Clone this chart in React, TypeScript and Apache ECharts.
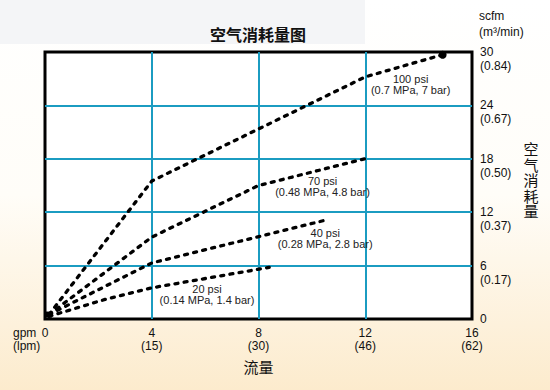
import React, { useEffect, useRef } from "react";
import * as echarts from "echarts";

// Flow (gpm) and air consumption (scfm)
const gpm100 = [0.15, 4, 12, 14.9];
const scfm100 = [0.5, 15.5, 27.2, 29.7];
const gpm70 = [0.15, 4, 8, 12.05];
const scfm70 = [0.5, 9.2, 15, 18.05];
const gpm40 = [0.15, 4, 10.5];
const scfm40 = [0.5, 6.3, 11.1];
const gpm20 = [0.15, 2.25, 4, 8.4];
const scfm20 = [0.3, 2.2, 3.5, 5.8];

// tick labels
const xTicks = [0, 4, 8, 12, 16];
const lpmLabels = ["", "(15)", "(30)", "(46)", "(62)"];
const yTicks = [0, 6, 12, 18, 24, 30];
const m3Labels = ["", "(0.17)", "(0.37)", "(0.50)", "(0.67)", "(0.84)"];

// series names and annotations
const seriesNames = ["100 psi", "70 psi", "40 psi", "20 psi"];
const seriesNotes = [
  "(0.7 MPa, 7 bar)",
  "(0.48 MPa, 4.8 bar)",
  "(0.28 MPa, 2.8 bar)",
  "(0.14 MPa, 1.4 bar)",
];
const noteAnchorsX = [13.7, 10.4, 10.5, 6.07];
const noteAnchorsY = [26.3, 14.9, 9.0, 2.7];

const FONT = "'Liberation Sans', Arial, 'Noto Sans CJK SC', sans-serif";

export default function App() {
  const ref = useRef<HTMLDivElement>(null);
  useEffect(() => {
    if (!ref.current) return;
    const chart = echarts.init(ref.current, null, { renderer: "svg" });
    const xs = [gpm100, gpm70, gpm40, gpm20];
    const ys = [scfm100, scfm70, scfm40, scfm20];
    const series: any[] = xs.map((xv, si) => {
      const data: any[] = xv.map((x, i) => [x, ys[si][i]]);
      if (si === 0) {
        const last = data.length - 1;
        data[last] = {
          value: data[last],
          symbol: "circle",
          symbolSize: 8,
          itemStyle: { color: "#000" },
        };
        data[0] = {
          value: data[0],
          symbol: "rect",
          symbolSize: 6,
          itemStyle: { color: "#000" },
        };
      }
      return {
        type: "line",
        name: seriesNames[si],
        data,
        symbol: "none",
        showSymbol: true,
        showAllSymbol: true,
        lineStyle: { color: "#000", width: 3.3, type: [3, 6.3], cap: "round" },
        z: 5,
        markPoint: {
          symbol: "circle",
          symbolSize: 0,
          silent: true,
          data: [
            {
              coord: [noteAnchorsX[si], noteAnchorsY[si]],
              label: {
                show: true,
                position: "inside",
                formatter: seriesNames[si] + "\n" + seriesNotes[si],
                fontSize: 11,
                lineHeight: 11,
                color: "#222",
                fontFamily: FONT,
              },
            },
          ],
        },
      };
    });

    chart.setOption({
      animation: false,
      backgroundColor: new echarts.graphic.LinearGradient(0, 0, 0, 1, [
        { offset: 0, color: "#ffffff" },
        { offset: 0.5, color: "#fffdf8" },
        { offset: 1, color: "#fcebcd" },
      ]),
      title: {
        text: "空气消耗量图",
        left: 258,
        top: 27,
        padding: 0,
        textAlign: "center",
        textStyle: { fontSize: 16, fontWeight: "bold", color: "#111", fontFamily: FONT },
      },
      grid: {
        left: 45,
        right: 78,
        top: 52,
        bottom: 71,
        show: true,
        backgroundColor: "#ffffff",
        borderColor: "#000",
        borderWidth: 3,
      },
      xAxis: {
        type: "value",
        min: 0,
        max: 16,
        interval: 4,
        axisLine: { show: false },
        axisTick: { show: false },
        splitLine: {
          show: true,
          showMinLine: false,
          showMaxLine: false,
          lineStyle: { color: "#1b9cc1", width: 2 },
        },
        axisLabel: {
          margin: 7,
          fontSize: 12,
          lineHeight: 13,
          color: "#111",
          fontFamily: FONT,
          formatter: (v: number) => {
            const i = xTicks.indexOf(v);
            return i <= 0 ? String(v) : v + "\n" + lpmLabels[i];
          },
        },
        name: "流量",
        nameLocation: "middle",
        nameGap: 41,
        nameTextStyle: { fontSize: 15, color: "#111", fontFamily: FONT },
      },
      yAxis: {
        type: "value",
        position: "right",
        min: 0,
        max: 30,
        interval: 6,
        axisLine: { show: false },
        axisTick: { show: false },
        splitLine: {
          show: true,
          showMinLine: false,
          showMaxLine: false,
          lineStyle: { color: "#1b9cc1", width: 2 },
        },
        axisLabel: {
          margin: 8,
          fontSize: 12,
          lineHeight: 14,
          color: "#111",
          fontFamily: FONT,
          formatter: (v: number) => {
            const i = yTicks.indexOf(v);
            return i <= 0 ? String(v) : " \n" + v + "\n" + m3Labels[i];
          },
        },
      },
      graphic: [
        {
          type: "rect",
          z: -10,
          silent: true,
          shape: { x: 0, y: 0, width: 365, height: 44 },
          style: { fill: "#f4f5f7" },
        },
        {
          type: "text",
          left: 479,
          top: 8,
          style: {
            text: "scfm\n(m³/min)",
            fontSize: 12,
            lineHeight: 16,
            fill: "#111",
            fontFamily: FONT,
          },
        },
        {
          type: "text",
          left: 13,
          top: 326,
          style: {
            text: "gpm\n(lpm)",
            fontSize: 12,
            lineHeight: 13,
            fill: "#111",
            fontFamily: FONT,
          },
        },
        {
          type: "text",
          x: 531,
          y: 142,
          style: {
            text: "空\n气\n消\n耗\n量",
            fontSize: 15,
            lineHeight: 15.5,
            align: "center",
            fill: "#111",
            fontFamily: FONT,
          },
        },
      ],
      series,
    });
    return () => chart.dispose();
  }, []);
  return (
    <div
      ref={ref}
      style={{ position: "fixed", left: 0, top: 0, width: 550, height: 390 }}
    />
  );
}
